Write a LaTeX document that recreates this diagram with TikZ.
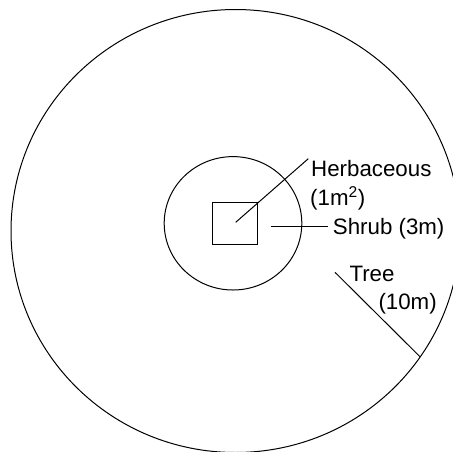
\documentclass[tikz,border=0pt]{standalone}
\usepackage{fontspec}
\setmainfont{Liberation Sans}
\begin{document}
\begin{tikzpicture}[x=1pt,y=-1pt,
  shape line/.style={draw=black,line width=1pt},
  leader/.style={draw=black,line width=1pt},
  lbl/.style={anchor=base west,inner sep=0pt,font=\fontsize{22.3}{25}\selectfont}]
\useasboundingbox (0,0) rectangle (453,451);
\begin{scope}
\clip (0,0) rectangle (453,451);
\draw[shape line] (235.5,231) ellipse [x radius=224.5, y radius=221.5];
\end{scope}
\draw[shape line] (233,223.3) ellipse [x radius=68.8, y radius=66.7];
\draw[shape line] (212.3,202.7) rectangle (257.7,244.7);
% labels
\node[lbl] (herb) at (311,176) {Herbaceous};
\node[lbl] (herbsz) at (310,205) {(1m\textsuperscript{2})};
\node[lbl] (shrub) at (332.7,234.3) {Shrub (3m)};
\node[lbl] (tree) at (349.3,281.7) {Tree};
\node[lbl] (treesz) at (378.3,309.3) {(10m)};
% leader endpoints
\coordinate (hA) at (235.7,222.3);
\coordinate (hB) at (308.3,158.7);
\coordinate (sA) at (270.7,226.3);
\coordinate (sB) at (328.3,226.3);
\coordinate (tA) at (335,272.3);
\coordinate (tB) at (420,356.7);
\draw[leader] (hA) -- (hB);
\draw[leader] (sA) -- (sB);
\draw[leader] (tA) -- (tB);
\end{tikzpicture}
\end{document}
